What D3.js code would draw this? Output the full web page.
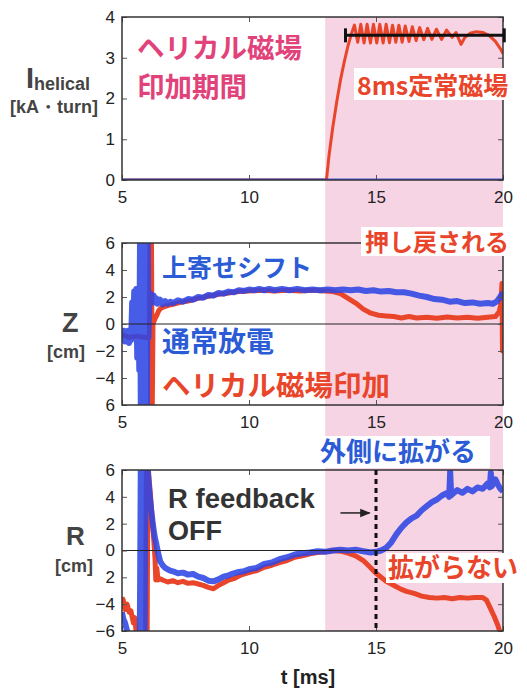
<!DOCTYPE html>
<html><head><meta charset="utf-8">
<script src="https://cdn.jsdelivr.net/npm/d3@7"></script>
<style>body{margin:0;background:#fff}svg{display:block}</style>
</head><body>
<svg id="c" width="527" height="689"></svg>
<script>
// ---------- data ----------
const tTicks = [5, 10, 15, 20];
const iTicks = [0, 1, 2, 3, 4];
const iTickLabels = ["0", "1", "2", "3", "4"];
const zTicks = [6, 4, 2, 0, -2, -4, -6];
const zTickLabels = ["6", "4", "2", "0", "−2", "−4", "6"];
const rTicks = [6, 4, 2, 0, -2, -4, -6];
const rTickLabels = ["6", "4", "2", "0", "2", "−4", "−6"];
const helicalWindow = [13, 20];
const steadyBar = [13.8, 20.05];
const steadyLevel = 3.55;
const feedbackOffTime = 15;
const arrowSpan = [13.6, 14.75];
const arrowLevel = 2.8;

const iNormal = [[5, 0], [20, 0]];
const iHelical = [[5,0],[13.05,0],[13.15,0.6],[13.3,1.3],[13.45,1.9],[13.6,2.45],[13.75,2.9],[13.9,3.3],[14.05,3.62],[14.15,3.8],[14.28,3.38],[14.4,3.82],[14.53,3.36],[14.65,3.82],[14.78,3.36],[14.9,3.82],[15.03,3.36],[15.15,3.82],[15.28,3.36],[15.4,3.82],[15.53,3.37],[15.65,3.8],[15.78,3.38],[15.9,3.8],[16.03,3.38],[16.15,3.78],[16.3,3.4],[16.43,3.76],[16.58,3.42],[16.72,3.74],[16.88,3.44],[17.03,3.72],[17.2,3.45],[17.38,3.7],[17.58,3.45],[17.78,3.68],[18.0,3.5],[18.15,3.62],[18.35,3.33],[18.5,3.5],[18.7,3.6],[18.95,3.64],[19.2,3.62],[19.45,3.55],[19.7,3.4],[19.9,3.22],[20,3.1]];

const zNormal = [[5.0,-0.4],[5.04,-1.2],[5.08,-0.5],[5.12,-1.3],[5.16,-0.6],[5.2,-1.2],[5.24,-0.5],[5.28,-1.4],[5.32,-0.6],[5.36,-1.2],[5.4,1.6],[5.44,-1.0],[5.48,2.4],[5.52,-0.8],[5.56,2.6],[5.6,-2.5],[5.64,2.2],[5.68,-3.4],[5.71,6.5],[5.74,-6.5],[5.77,6.5],[5.8,-6.5],[5.83,6.5],[5.86,-6.5],[5.89,6.5],[5.92,-6.5],[5.95,6.5],[5.98,-6.5],[6.01,6.5],[6.04,-1.0],[6.08,2.3],[6.12,1.5],[6.16,2.2],[6.2,1.7],[6.25,2.1],[6.3,1.6],[6.35,1.9],[6.4,1.5],[6.5,1.8],[6.6,1.45],[6.7,1.7],[6.8,1.5],[6.9,1.65],[7.0,1.55],[7.2,1.75],[7.4,1.65],[7.6,1.85],[7.8,1.8],[8.0,2.0],[8.2,1.95],[8.4,2.15],[8.6,2.1],[8.8,2.3],[9.0,2.25],[9.2,2.4],[9.4,2.35],[9.6,2.5],[9.8,2.45],[10.0,2.55],[10.2,2.5],[10.4,2.6],[10.6,2.5],[10.8,2.6],[11.0,2.5],[11.3,2.6],[11.6,2.5],[11.9,2.6],[12.2,2.5],[12.5,2.55],[12.8,2.5],[13.1,2.55],[13.4,2.5],[13.7,2.55],[14.0,2.5],[14.3,2.55],[14.6,2.45],[14.9,2.5],[15.2,2.4],[15.5,2.45],[15.8,2.35],[16.1,2.35],[16.4,2.25],[16.7,2.1],[17.0,2.0],[17.3,1.85],[17.6,1.8],[17.9,1.65],[18.2,1.7],[18.5,1.55],[18.8,1.6],[19.1,1.5],[19.4,1.55],[19.6,1.5],[19.75,1.65],[19.85,1.9],[19.95,2.2],[20.0,2.0]];

const zHelical = [[5.0,-0.8],[5.3,-1.0],[5.6,-0.9],[5.9,-1.0],[6.08,-1.0],[6.1,6.5],[6.13,-6.5],[6.16,6.5],[6.19,-6.5],[6.22,0.0],[6.3,0.4],[6.37,0.65],[6.45,1.0],[6.55,1.2],[6.7,1.3],[6.85,1.4],[7.0,1.45],[7.3,1.6],[7.6,1.7],[8.0,1.9],[8.4,2.05],[8.8,2.2],[9.2,2.3],[9.6,2.4],[10.0,2.45],[10.5,2.5],[11.0,2.45],[11.5,2.5],[12.0,2.45],[12.5,2.5],[13.0,2.45],[13.3,2.4],[13.6,2.25],[13.9,1.9],[14.2,1.55],[14.5,1.1],[14.8,0.8],[15.1,0.65],[15.4,0.6],[15.7,0.55],[16.0,0.45],[16.3,0.55],[16.6,0.45],[17.0,0.5],[17.4,0.42],[17.8,0.52],[18.2,0.45],[18.6,0.5],[19.0,0.42],[19.4,0.5],[19.7,0.55],[19.85,0.9],[19.92,1.5],[19.96,3.0],[19.98,-2.0],[20.0,0.5]];

const rNormal = [[5.0,-4.6],[5.05,-5.1],[5.12,-5.4],[5.2,-6.0],[5.25,-6.5],[5.7,-6.5],[5.74,6.5],[5.77,-6.5],[5.8,6.5],[5.83,-6.5],[5.86,6.5],[5.89,-6.5],[5.92,6.5],[6.0,6.3],[6.05,5.0],[6.1,3.9],[6.15,3.0],[6.2,2.2],[6.25,1.5],[6.3,0.9],[6.35,0.5],[6.4,0.0],[6.45,-0.4],[6.5,-0.8],[6.6,-1.1],[6.7,-1.3],[6.8,-1.4],[6.9,-1.5],[7.0,-1.55],[7.2,-1.7],[7.4,-1.65],[7.6,-1.8],[7.8,-1.75],[8.0,-1.95],[8.2,-2.05],[8.4,-2.25],[8.6,-2.3],[8.8,-2.15],[9.0,-1.95],[9.2,-1.85],[9.4,-1.7],[9.6,-1.6],[9.8,-1.55],[10.0,-1.4],[10.3,-1.3],[10.6,-1.0],[10.9,-0.9],[11.2,-0.65],[11.5,-0.5],[11.8,-0.3],[12.1,-0.2],[12.4,-0.15],[12.7,-0.05],[13.0,-0.1],[13.3,0.0],[13.6,0.05],[13.9,0.0],[14.2,0.05],[14.5,-0.05],[14.8,-0.15],[15.0,-0.1],[15.2,0.0],[15.4,0.2],[15.6,0.6],[15.8,1.2],[16.0,1.7],[16.2,2.1],[16.4,2.4],[16.6,2.6],[16.8,3.0],[17.0,3.3],[17.2,3.6],[17.4,3.8],[17.6,4.1],[17.8,4.3],[17.88,4.0],[17.92,5.9],[17.96,4.1],[18.0,4.2],[18.2,4.5],[18.4,4.3],[18.6,4.6],[18.8,4.4],[19.0,4.7],[19.2,4.6],[19.4,5.0],[19.48,4.7],[19.52,5.8],[19.56,4.8],[19.7,5.3],[19.8,4.9],[19.9,4.6],[20.0,4.4]];

const rHelical = [[5.0,-3.5],[5.05,-3.7],[5.12,-4.4],[5.2,-4.0],[5.28,-4.6],[5.35,-4.5],[5.45,-5.4],[5.5,-5.0],[5.58,-6.5],[5.93,-6.5],[5.96,6.5],[5.99,-6.5],[6.02,6.5],[6.06,5.5],[6.1,4.6],[6.15,3.4],[6.2,2.0],[6.25,0.8],[6.3,-0.6],[6.33,-2.2],[6.37,-1.3],[6.42,-2.2],[6.5,-2.1],[6.6,-2.2],[6.8,-2.35],[7.0,-2.25],[7.2,-2.4],[7.4,-2.3],[7.6,-2.45],[7.8,-2.4],[8.0,-2.5],[8.2,-2.6],[8.4,-2.75],[8.6,-2.85],[8.8,-2.6],[9.0,-2.4],[9.2,-2.2],[9.4,-2.1],[9.6,-1.9],[9.8,-1.75],[10.0,-1.65],[10.3,-1.5],[10.6,-1.25],[10.9,-1.1],[11.2,-0.9],[11.5,-0.75],[11.8,-0.5],[12.1,-0.4],[12.4,-0.25],[12.7,-0.15],[13.0,-0.1],[13.3,0.0],[13.6,-0.05],[13.9,-0.2],[14.2,-0.4],[14.5,-0.75],[14.8,-1.3],[15.0,-1.7],[15.2,-2.0],[15.4,-2.3],[15.6,-2.5],[15.8,-2.7],[16.0,-2.9],[16.2,-3.05],[16.5,-3.2],[16.8,-3.4],[17.1,-3.5],[17.4,-3.55],[17.7,-3.5],[18.0,-3.6],[18.3,-3.5],[18.6,-3.55],[18.9,-3.5],[19.2,-3.5],[19.35,-3.7],[19.5,-4.3],[19.65,-4.9],[19.8,-5.6],[19.9,-6.2]];

// ---------- drawing ----------
const RED = "#e9452b", BLUE = "#2d45e4", PINK = "#f7d4e4";
const JP = "'Noto Sans CJK JP','Noto Sans CJK SC',sans-serif";
const LAT = "'Liberation Sans',Arial,Helvetica,sans-serif";
const svg = d3.select("#c");
const x = d3.scaleLinear().domain([5, 20]).range([122, 503]);

const panels = [
  {id:"i", y0:17, y1:180, dom:[0,4], ticks:iTicks, labels:iTickLabels, normal:iNormal, helical:iHelical, wN:3, wH:3, zero:false},
  {id:"z", y0:243, y1:405, dom:[-6,6], ticks:zTicks, labels:zTickLabels, normal:zNormal, helical:zHelical, wN:6, wH:5, zero:true},
  {id:"r", y0:470, y1:631, dom:[-6,6], ticks:rTicks, labels:rTickLabels, normal:rNormal, helical:rHelical, wN:6, wH:5, zero:true}
];
panels.forEach(p => p.y = d3.scaleLinear().domain(p.dom).range([p.y1, p.y0]));

// pink helical window across all panels
svg.append("rect")
  .attr("x", x(helicalWindow[0])).attr("y", panels[0].y0)
  .attr("width", x(helicalWindow[1]) - x(helicalWindow[0]))
  .attr("height", panels[2].y1 - panels[0].y0)
  .attr("fill", PINK);

const defs = svg.append("defs");
panels.forEach(p => {
  defs.append("clipPath").attr("id", "clip-" + p.id).append("rect")
    .attr("x", x(5)).attr("y", p.y0).attr("width", x(20) - x(5)).attr("height", p.y1 - p.y0);
  const g = svg.append("g").attr("clip-path", `url(#clip-${p.id})`);
  const line = d3.line().x(d => x(d[0])).y(d => p.y(d[1]));
  g.append("path").datum(p.helical).attr("d", line).attr("fill", "none")
    .attr("stroke", RED).attr("stroke-width", p.wH).attr("stroke-linejoin", "round");
  g.append("path").datum(p.normal).attr("d", line).attr("fill", "none")
    .attr("stroke", BLUE).attr("stroke-width", p.wN).attr("stroke-linejoin", "round")
    .attr("stroke-opacity", 0.88);
  if (p.zero) {
    g.append("line").attr("x1", x(5)).attr("x2", x(20))
      .attr("y1", p.y(0)).attr("y2", p.y(0)).attr("stroke", "#222").attr("stroke-width", 1.2);
  }
  // axes
  const left = svg.append("g").attr("transform", `translate(${x(5)},0)`)
    .call(d3.axisLeft(p.y).tickValues(p.ticks).tickSize(-5).tickPadding(7)
      .tickFormat((d, i) => p.labels[i]));
  const right = svg.append("g").attr("transform", `translate(${x(20)},0)`)
    .call(d3.axisRight(p.y).tickValues(p.ticks).tickSize(-5).tickFormat(""));
  const bottom = svg.append("g").attr("transform", `translate(0,${p.y1})`)
    .call(d3.axisBottom(x).tickValues(tTicks).tickSize(-5).tickPadding(11).tickFormat(d3.format("d")));
  const top = svg.append("g").attr("transform", `translate(0,${p.y0})`)
    .call(d3.axisTop(x).tickValues(tTicks).tickSize(-5).tickFormat(""));
  [left, right, bottom, top].forEach(a => {
    a.select(".domain").remove();
    a.selectAll(".tick line").attr("stroke", "#555").attr("stroke-width", 1);
    a.selectAll("text").attr("font-family", LAT).attr("font-size", 17).attr("fill", "#222");
  });
  svg.append("rect").attr("x", x(5)).attr("y", p.y0)
    .attr("width", x(20) - x(5)).attr("height", p.y1 - p.y0)
    .attr("fill", "none").attr("stroke", "#333").attr("stroke-width", 1.5);
});

const P0 = panels[0], P2 = panels[2];

// steady bar in top panel
const by = P0.y(steadyLevel);
svg.append("line").attr("x1", x(steadyBar[0])).attr("x2", x(steadyBar[1]))
  .attr("y1", by).attr("y2", by).attr("stroke", "#111").attr("stroke-width", 3);
steadyBar.forEach(t => svg.append("line").attr("x1", x(t)).attr("x2", x(t))
  .attr("y1", by - 7).attr("y2", by + 7).attr("stroke", "#111").attr("stroke-width", 3));

// feedback-off dashed line
svg.append("line").attr("x1", x(feedbackOffTime)).attr("x2", x(feedbackOffTime))
  .attr("y1", P2.y0).attr("y2", P2.y1).attr("stroke", "#111").attr("stroke-width", 3)
  .attr("stroke-dasharray", "5,4");

// arrow
defs.append("marker").attr("id", "ah").attr("viewBox", "0 0 10 10").attr("refX", 9).attr("refY", 5)
  .attr("markerWidth", 7).attr("markerHeight", 7).attr("orient", "auto")
  .append("path").attr("d", "M0,1 L10,5 L0,9 z").attr("fill", "#222");
svg.append("line").attr("x1", x(arrowSpan[0])).attr("x2", x(arrowSpan[1]))
  .attr("y1", P2.y(arrowLevel)).attr("y2", P2.y(arrowLevel))
  .attr("stroke", "#222").attr("stroke-width", 1.5).attr("marker-end", "url(#ah)");

// white label boxes
function box(x0, y0, x1, y1) {
  svg.append("rect").attr("x", x0).attr("y", y0).attr("width", x1 - x0).attr("height", y1 - y0).attr("fill", "#fff");
}
box(354, 68, 510, 100);
box(361, 227, 513, 256);
box(316, 436, 490, 468);
box(386, 553, 527, 583);

function txt(s, xx, yy, size, color, fam, weight) {
  return svg.append("text").attr("x", xx).attr("y", yy).attr("font-size", size)
    .attr("fill", color).attr("font-family", fam || JP).attr("font-weight", weight || 700).text(s);
}
// annotations
txt("ヘリカル磁場", 137, 58, 27.5, "#e2427a");
txt("印加期間", 137, 97, 27.5, "#e2427a");
txt("8ms定常磁場", 357, 95, 25, RED);
txt("上寄せシフト", 162, 277, 25, "#2c5bd6");
txt("通常放電", 162, 352, 28, "#2c5bd6");
txt("ヘリカル磁場印加", 162, 396, 28.5, RED);
txt("押し戻される", 365, 251, 24, RED);
txt("外側に拡がる", 320, 461, 26, "#2c5bd6");
txt("R feedback", 168, 508, 27.5, "#333", LAT);
txt("OFF", 168, 540, 27, "#333", LAT);
txt("拡がらない", 388, 577, 26, RED);

// axis titles
const ti = svg.append("text").attr("font-family", LAT).attr("font-weight", 700).attr("fill", "#444");
ti.append("tspan").attr("x", 26).attr("y", 88).attr("font-size", 29).text("I");
ti.append("tspan").attr("y", 90).attr("font-size", 18).text("helical");
txt("[kA・turn]", 10, 113, 18, "#444", LAT);
txt("Z", 62, 332, 27, "#444", LAT);
txt("[cm]", 47, 358, 18, "#444", LAT);
txt("R", 66, 545, 26, "#444", LAT);
txt("[cm]", 55, 572, 18, "#444", LAT);
txt("t [ms]", 308, 684, 20, "#222", LAT).attr("text-anchor", "middle");
</script>
</body></html>
